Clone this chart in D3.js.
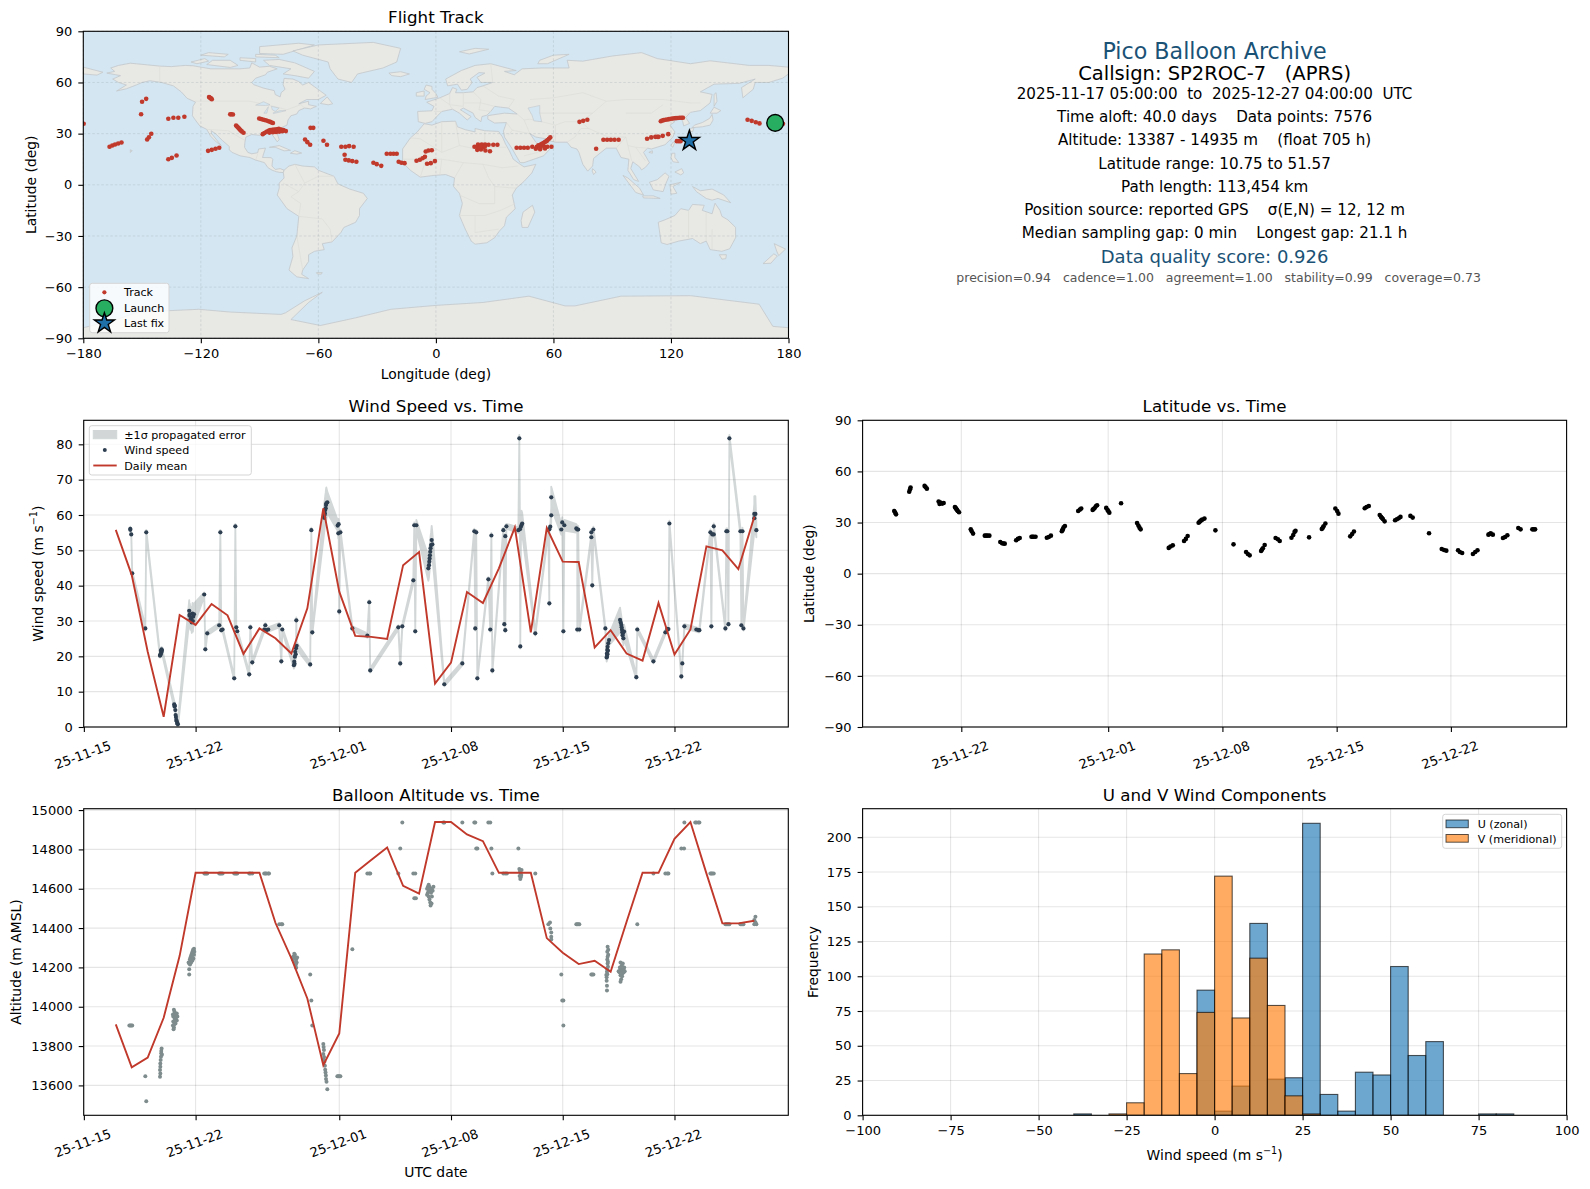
<!DOCTYPE html>
<html>
<head>
<meta charset="utf-8">
<script src="https://cdn.jsdelivr.net/npm/d3@7/dist/d3.min.js"></script>
<style>
  body { margin: 0; background: #fff; }
  svg { display: block; font-family: "DejaVu Sans", sans-serif; }
</style>
</head>
<body>
<div id="container"></div>
<script>
/* DATA */
// all times are days since 2025-11-15 00:00 UTC
const timeTicks = ["2025-11-15", "2025-11-22", "2025-12-01", "2025-12-08", "2025-12-15", "2025-12-22"]
const lonTicks = [-180, -120, -60, 0, 60, 120, 180]
const latTicks = [-90, -60, -30, 0, 30, 60, 90]
const speedTicks = [0, 10, 20, 30, 40, 50, 60, 70, 80]
const altTicks = [13600, 13800, 14000, 14200, 14400, 14600, 14800, 15000]
const histXTicks = [-100, -75, -50, -25, 0, 25, 50, 75, 100]
const histYTicks = [0, 25, 50, 75, 100, 125, 150, 175, 200]

// daily means, first day is day 2 (Nov 17)
const dailyDays = [2,3,4,5,6,7,8,9,10,11,12,13,14,15,16,17,18,19,20,21,22,23,24,25,26,27,28,29,30,31,32,33,34,35,36,37,38,39,40,41,42]
const dailySpeed = [55.8,43,21.3,2.9,31.7,28.9,34.8,31.6,20.7,27.9,25.1,20.8,33.6,61.9,38.3,25.8,25.5,24.9,45.8,49.5,12.3,18.2,38.2,35.1,44.9,56.5,26.8,56.3,46.8,46.7,22.5,27.4,20.8,18.8,35.1,20.5,27.6,51.1,50,44.7,59.5]
const dailyAlt = [13910,13692,13741,13944,14259,14681,14681,14681,14681,14681,14427,14246,14042,13703,13864,14681,14746,14810,14615,14575,14939,14939,14876,14842,14681,14681,14681,14349,14275,14217,14234,14178,14432,14681,14681,14854,14939,14678,14424,14424,14437]

// [day, wind speed, sigma]
const windPts = [
  [2.91,56.1,.6],[2.91,55.8,.6],[2.97,54.5,.6],[3.03,43.5,.6],[3.85,27.9,.6],[3.91,55.1,.7],
  [4.77,20.2,.6],[4.79,20.4,.6],[4.81,20.6,.6],[4.83,21.6,.6],[4.85,21.1,.7],[4.87,22,.7],[4.89,21.6,.7],
  [5.66,6.4,1],[5.68,5.8,1],[5.7,6,1],[5.73,4.8,1],[5.75,3.4,1],[5.77,2.8,1],[5.79,2,1],[5.82,1.6,1],[5.85,1,1],[5.89,.8,1],
  [6.6,32.9,3],[6.62,31.5,3],[6.64,31.9,3],[6.68,30.5,3],[6.73,30.9,3],[6.76,29.6,3],[6.81,32.1,3],[6.83,30,3],[6.85,31.2,3],[6.9,31.9,3],
  [7.54,37.5,.6],[7.61,22,.6],[7.73,26.5,.6],[8.48,28.8,.6],[8.55,55.1,.7],[8.61,27.4,.6],[8.69,27.6,.6],
  [9.42,13.8,.6],[9.49,56.8,.7],[9.55,28.2,.6],[9.61,27.1,.6],[10.36,14.9,.6],[10.43,28.2,.6],[10.55,18.3,.6],
  [11.3,27.6,.6],[11.37,28.8,.6],[11.43,27.4,.6],[11.55,27.6,.6],[12.24,28.8,.6],[12.37,18.6,.6],[12.43,27.6,.6],
  [13.16,17.5,1],[13.18,18.5,1],[13.2,17.9,1],[13.22,19.9,1.5],[13.24,21.3,1.5],[13.27,20.6,1.5],[13.29,22.3,1.5],[13.31,30.2,.8],[13.33,23,1],
  [14.18,17.7,.6],[14.25,55.7,.7],[14.31,26.8,.6],
  [15.06,59.2,4],[15.08,60,4],[15.1,60.5,4],[15.12,61.4,4],[15.15,61.9,4.5],[15.17,62.8,4.5],[15.19,63.3,4.5],[15.25,63.6,3],
  [15.9,57,1.5],[15.94,54.8,1.5],[15.96,57.4,1.5],[16,32.7,.7],[16.07,55.1,.8],
  [16.82,27.9,.6],[17.76,25.9,.6],[17.88,35.3,.6],[17.94,16,.6],[19.7,28.2,.6],[19.82,18,.6],[19.95,28.5,.6],
  [20.64,41.5,.8],[20.7,57.1,.8],[20.76,27.1,.6],[20.83,57.1,1.5],
  [21.58,44.9,3.5],[21.62,45.8,3.5],[21.64,46.8,3.5],[21.66,47.7,3.5],[21.68,48.6,3.5],[21.7,49.6,3.5],[21.72,50.6,3.5],[21.75,51.5,3.5],[21.79,52.9,4],[21.83,51.7,3.5],
  [22.58,12.1,.6],[23.71,18,.6],[24.46,55.4,.7],[24.52,27.9,.6],[24.58,55.1,.7],[24.65,13.8,.6],
  [25.34,41.8,.6],[25.46,27.6,.6],[25.53,54.2,.7],[25.59,16,.6],[26.28,55.7,.7],[26.34,29.1,.6],[26.4,54,.7],[26.4,27.4,.6],[26.47,56.8,.7],
  [27.22,55.7,.8],[27.28,81.7,1],[27.32,56,1.5],[27.34,22.8,.6],[27.38,56.7,4],[27.42,57.2,4],[27.46,57.6,3],
  [28.28,26.5,.6],[29.1,55.8,.8],[29.16,35,.6],[29.16,56,.8],[29.22,56.7,.8],[29.28,59.9,2],[29.28,65,3],
  [29.91,55.9,1.5],[29.97,57.9,1.5],[30.04,27.1,.6],[30.1,57.1,1.5],[30.85,56.2,1.2],[30.91,55.9,1],[30.91,27.6,.6],[30.97,55.9,1],[31.04,27.6,.6],
  [31.79,53.7,.8],[31.79,55.1,.8],[31.85,40.1,.6],[31.92,55.9,.8],[32.67,27.9,.6],
  [32.75,19.7,1.2],[32.77,20.8,1.2],[32.77,19.9,1.2],[32.79,21.8,1.5],[32.8,20.6,1.5],[32.81,22.7,1.5],[32.83,21.6,1.5],[32.85,23.7,1.5],[32.9,24.6,1.5],
  [33.59,30.3,3.5],[33.63,29.6,3],[33.67,28.9,2.5],[33.69,28.2,2.5],[33.71,27.5,2],[33.73,26.8,2],[33.75,26,2],[33.78,26.6,2],[33.8,25.1,2],[33.84,27,2],
  [34.61,14.1,.6],[34.67,27.6,.6],[35.68,18.6,.6],[36.43,26.8,.6],[36.55,27.7,.6],[36.62,27.7,.6],[36.68,57.6,.8],
  [37.43,14.3,.6],[37.49,18,.6],[37.62,28.5,.6],[38.37,27.6,.6],[38.5,27.4,.6],[38.56,27.4,.6],
  [39.25,55.1,.8],[39.31,28.5,.6],[39.37,54.5,.8],[39.46,54.5,.8],[39.46,56.8,.8],
  [40.19,27.9,.6],[40.25,55.4,.8],[40.31,55.4,.8],[40.38,29.1,.6],[40.44,81.7,1],
  [41.13,55.4,1],[41.19,28.8,.6],[41.26,55.4,1],[41.32,27.9,.6],[42,59.1,4],[42,60.3,5],[42.07,60.3,5],[42.13,55.7,2]
]

// [day, altitude]
const altPts = [
  [2.85,13905],[2.91,13905],[2.97,13905],[3.03,13905],[3.85,13646],[3.91,13519],
  [4.77,13644],[4.79,13661],[4.77,13678],[4.79,13695],[4.79,13712],[4.81,13729],[4.83,13746],[4.85,13763],[4.87,13788],[4.85,13775],[4.89,13756],
  [5.62,13885],[5.64,13895],[5.58,13905],[5.66,13910],[5.6,13925],[5.68,13925],[5.82,13930],[5.7,13940],[5.6,13950],[5.66,13950],[5.72,13960],[5.76,13955],[5.7,13930],[5.74,13915],[5.78,13945],[5.86,13950],[5.68,13975],[5.64,13985],[5.82,13965],[5.58,13960],
  [6.6,14164],[6.6,14190],[6.6,14220],[6.64,14240],[6.68,14250],[6.72,14260],[6.76,14270],[6.8,14280],[6.84,14290],[6.88,14285],[6.9,14265],[6.86,14245],[6.8,14235],[6.72,14225],[6.65,14215],[6.9,14295],[6.56,14225],[6.92,14280],[6.8,14262],[6.7,14240],
  [7.55,14678],[7.61,14678],[7.67,14678],[7.73,14678],[8.48,14678],[8.55,14678],[8.61,14678],[8.69,14678],
  [9.42,14678],[9.49,14678],[9.55,14678],[9.61,14678],[10.36,14678],[10.43,14678],[10.55,14678],
  [11.3,14678],[11.37,14678],[11.43,14678],[11.55,14678],[11.6,14678],[12.24,14419],[12.37,14419],[12.43,14419],
  [13.1,14240],[13.14,14255],[13.18,14270],[13.22,14265],[13.26,14250],[13.3,14240],[13.33,14225],[13.28,14215],[13.2,14225],[13.3,14198],[13.36,14250],[13.06,14250],
  [14.18,14164],[14.25,14032],[14.31,13905],
  [15,13810],[15.02,13795],[15.04,13780],[15,13760],[15.05,13745],[15.02,13730],[15.07,13720],[15.1,13700],[15.12,13680],[15.14,13665],[15.16,13650],[15.17,13632],[15.2,13618],[15.25,13580],
  [15.88,13646],[15.94,13646],[16,13646],[16.07,13646],[16.82,14292],[17.76,14678],[17.88,14678],[17.94,14678],
  [19.7,14678],[19.82,14805],[19.95,14937],[20.64,14678],[20.76,14678],[20.7,14552],[20.8,14552],
  [21.5,14600],[21.55,14610],[21.6,14620],[21.65,14610],[21.7,14595],[21.75,14580],[21.8,14600],[21.85,14590],[21.55,14580],[21.6,14560],[21.65,14545],[21.7,14530],[21.72,14515],[21.78,14525],[21.8,14560],[21.9,14610],[21.5,14570],[21.62,14590],
  [22.52,14937],[22.58,14937],[23.71,14937],[24.46,14937],[24.52,14937],[24.58,14805],[24.65,14805],[25.34,14937],[25.46,14937],[25.53,14805],[25.59,14678],
  [26.28,14678],[26.4,14678],[26.5,14678],[27.22,14805],
  [27.28,14700],[27.32,14690],[27.36,14680],[27.4,14670],[27.38,14660],[27.34,14650],[27.3,14665],[27.42,14695],[28.28,14678],
  [29.1,14419],[29.2,14428],[29.22,14398],[29.28,14378],[29.28,14356],[29.28,14342],
  [29.91,14164],[29.97,14032],[30.04,14032],[30.04,13905],[30.85,14419],[30.91,14419],[30.97,14419],[31.04,14419],[31.79,14164],[31.85,14164],[31.92,14164],
  [32.77,14083],[32.77,14107],[32.75,14132],[32.73,14161],[32.77,14178],[32.79,14165],[32.79,14190],[32.83,14203],[32.81,14220],[32.83,14229],[32.79,14240],[32.81,14254],[32.85,14265],[32.79,14280],[32.85,14290],[32.81,14305],[32.75,14150],
  [33.62,14127],[33.66,14140],[33.55,14175],[33.6,14185],[33.65,14195],[33.7,14180],[33.75,14170],[33.8,14190],[33.82,14175],[33.72,14155],[33.62,14160],[33.7,14210],[33.76,14220],[33.62,14225],[33.85,14200],[33.5,14180],[33.88,14180],[33.58,14200],
  [34.67,14419],[35.68,14678],[36.43,14678],[36.55,14678],[36.62,14678],[37.43,14805],[37.6,14805],[37.62,14937],[38.3,14937],[38.37,14937],[38.5,14937],[38.56,14937],
  [39.25,14678],[39.31,14678],[39.37,14678],[39.46,14678],[40.19,14419],[40.25,14419],[40.31,14419],[40.38,14419],[40.44,14419],
  [41.13,14419],[41.19,14419],[41.26,14419],[41.32,14419],[42,14419],[42.13,14419],[42.07,14458],[42,14441],[42.07,14430]
]

// [day, latitude]
const latPts = [
  [2.89,36.8],[2.95,35.8],[3,34.8],[3.81,48.1],[3.86,49.5],[3.89,50.5],[4.75,51.5],[4.81,50.8],[4.89,49.9],
  [5.61,42.3],[5.67,40.9],[5.72,41.7],[5.83,41.1],[5.92,41.5],[6.61,39.1],[6.65,38.6],[6.69,38],[6.74,37.4],[6.78,36.8],[6.86,36],
  [7.58,26],[7.64,24.9],[7.72,23.5],[8.44,22.3],[8.52,22.3],[8.61,22.3],[8.72,22.3],[9.39,18.6],[9.5,17.8],[9.58,17.7],[9.66,17.6],
  [10.36,19.6],[10.47,20.4],[10.58,20.9],[11.3,21.7],[11.37,21.7],[11.44,21.7],[11.55,21.7],[12.24,21.1],[12.36,21.5],[12.49,22.3],
  [13.16,24.9],[13.19,25.5],[13.22,26],[13.27,27.2],[13.35,28],[14.16,36.8],[14.27,37.6],[14.35,38.2],
  [15.05,37.4],[15.1,37.9],[15.16,38.4],[15.24,39.5],[15.32,40.1],[15.88,38.6],[15.96,37.4],[16.01,36.6],[16.07,35.8],[16.79,41.3],
  [17.77,29.7],[17.85,28.2],[17.92,27],[17.99,26],[19.71,15.1],[19.82,15.9],[19.96,16.6],[20.65,19.2],[20.76,20.4],[20.87,22.1],
  [21.54,29.9],[21.6,30.4],[21.65,30.9],[21.7,31.3],[21.76,31.7],[21.9,32.3],[22.57,25.4],[23.68,17.2],[24.45,12.7],[24.56,11.5],[24.67,10.75],
  [25.37,13.3],[25.42,14.1],[25.48,14.9],[25.59,16.8],[26.26,20.9],[26.4,20.2],[26.51,19.2],[27.23,21.1],[27.34,22.7],[27.42,24.5],[27.48,25.2],
  [28.31,21.3],[29.09,26.2],[29.15,27],[29.2,27.8],[29.31,29.4],[29.92,38.2],[30.03,36.8],[30.11,35.2],[30.83,21.9],[30.95,23.3],[31.06,24.7],
  [31.72,38.4],[31.83,39.1],[31.97,39.7],[32.64,34.4],[32.72,33.3],[32.78,32.7],[32.83,32.1],[32.94,30.7],[33.58,31.3],[33.69,31.9],[33.8,32.5],[33.91,33.3],
  [34.52,33.9],[34.66,32.9],[35.66,23.7],[36.44,14.5],[36.58,13.9],[36.72,13.5],[37.44,13.7],[37.55,12.7],[37.69,12.1],
  [38.35,11.5],[38.49,12.7],[38.63,13.7],[39.3,22.9],[39.37,23.3],[39.44,23.7],[39.57,22.9],[40.19,20.9],[40.32,21.5],[40.46,22.5],
  [41.13,26.8],[41.27,26],[41.99,26],[42.08,26],[42.16,26]
]

// [lon, lat]
const trackPts = [
  [-179.8,35.8],[-166.6,22.3],[-165.2,23],[-163.8,23.6],[-162.2,24.2],[-160.5,24.8],[-150,48.7],[-147.9,50.4],[-150.5,41.4],
  [-147.4,26.6],[-146.5,27.9],[-145.3,29.9],[-136.6,38.7],[-134,39.3],[-131.5,39.3],[-128.4,39.9],[-136.6,15],[-134.8,15.8],[-132.4,17.2],
  [-116.3,19.9],[-114.4,20.5],[-112.5,21.1],[-110.6,21.7],[-115.8,51.5],[-115.5,51.2],[-115.1,50.9],[-114.7,50.5],[-114.4,50.2],
  [-105,41.3],[-104.3,41.4],[-103.6,41.2],[-102,34.8],[-101.5,34.2],[-101,33.6],[-100.5,33],[-100.1,32.4],[-99.6,31.8],[-99.1,31.3],[-98.2,30.5],
  [-90.2,38.9],[-89.3,38.6],[-88.4,38.3],[-87.5,38],[-86.5,37.7],[-85.5,37.3],[-84.6,36.9],[-83.9,36.5],[-83.2,36.2],
  [-88.4,29.7],[-87.5,30.4],[-86.5,31.1],[-85.5,31.6],[-84.6,32.1],[-83.5,32.3],[-82.5,32.4],[-81.3,32.6],[-80.2,32.8],[-79,32.4],[-77.8,32.1],[-76.6,31.5],
  [-85,30.6],[-84,31.2],[-83.2,30.8],[-82.5,31.4],[-81.6,31],[-81,31.6],[-80,31.2],[-79.5,31.6],[-78.5,31.4],
  [-64,33.4],[-62.6,33.4],[-66.8,26.6],[-65.6,25],[-64.2,23.5],[-57.4,25.8],[-55.6,23.5],
  [-48.3,22.3],[-46.2,22.3],[-44.3,22.7],[-42,22.3],[-46.6,17.6],[-46.2,14.7],[-44.5,14.3],[-42.7,13.9],[-40.6,13.5],
  [-31.9,12.9],[-30.2,12.1],[-27.9,11.1],[-25.1,18.2],[-23.2,18.2],[-21.6,18.2],[-20,18.2],[-19,13.5],[-17.6,12.9],[-16,12.7],
  [-9.9,14.1],[-8.2,14.7],[-6.8,15.6],[-5.6,16.4],[-5.2,19.5],[-3.8,20.1],[-2.1,20.3],[-4.5,12.3],[-2.6,12.7],[-0.5,13.9],
  [19.7,22.3],[21.5,22.3],[21.5,23.6],[23.4,23.6],[25.1,23.6],[26.9,23.5],[29.3,23.5],[31.4,23.5],[21.1,20.5],[23,20.7],[25.3,20.1],[27.6,19.7],[22.3,21.9],[24.1,21.9],[23,22.8],[25,22.5],
  [41.2,21.7],[43.1,21.7],[45,21.7],[46.9,21.7],[49.2,22.3],[51.5,22.3],[53.4,22.3],[55.3,22.3],[56.9,22.3],[59,22.3],
  [52.3,23.1],[53.7,23.8],[55.1,24.6],[56.5,25.6],[57.7,27],[58.4,27.8],[57,26.3],[55.8,25.2],[54.4,24.2],[51,21.1],[53.2,20.9],[55.7,21.3],
  [73.3,36.9],[75.2,37.5],[77.3,38.1],[81.8,21.1],[85.5,26.4],[87.4,26.4],[89.3,26.4],[91.2,26.4],[93.3,26.4],
  [107.8,27],[109.9,27.8],[112,28.1],[113,28.1],[113.7,28.1],[115.8,28.7],[118.6,29.7],
  [114.8,37.3],[115.5,37.7],[116.3,37.9],[117.2,38.1],[118.1,38.3],[119,38.5],[120,38.7],[120.9,38.9],[121.8,39],[122.6,39.1],[123.5,39.2],[124.4,39.3],[125.3,39.3],[126.1,39.3],
  [123,25.6],[124,25.6],[124.9,25.6],[159.1,38.1],[161.2,37.5],[163.3,36.7],[165.2,36],[177.2,35.8]
]
const launchPt = [173.2, 36.3]
const lastFixPt = [129.4, 25.8]

// histogram, bins of 5 m/s from -100 to 100
const binStarts = [-100,-95,-90,-85,-80,-75,-70,-65,-60,-55,-50,-45,-40,-35,-30,-25,-20,-15,-10,-5,0,5,10,15,20,25,30,35,40,45,50,55,60,65,70,75,80,85,90,95]
const uCounts = [0,0,0,0,0,0,0,0,0,0,0,0,1,0,0,0,0,0,0,90,3,21,138,26,27,210,15,3,31,29,107,43,53,0,0,1,1,0,0,0]
const vCounts = [0,0,0,0,0,0,0,0,0,0,0,0,0,0,1,9,116,119,30,74,172,70,113,79,14,1,0,0,0,0,0,0,0,0,0,0,0,0,0,0]

const infoLines = [
  "2025-11-17 05:00:00  to  2025-12-27 04:00:00  UTC",
  "Time aloft: 40.0 days    Data points: 7576",
  "Altitude: 13387 - 14935 m    (float 705 h)",
  "Latitude range: 10.75 to 51.57",
  "Path length: 113,454 km",
  "Position source: reported GPS    σ(E,N) = 12, 12 m",
  "Median sampling gap: 0 min    Longest gap: 21.1 h"
]

// coastlines, lon/lat by hand
const land = [
  // north america
  [[-168,65.5],[-164,66.5],[-166,68.5],[-162,70],[-156,71.3],[-148,70.4],[-141,69.6],[-135,69.3],[-128,70],[-124,69.8],[-115,68],[-108,68],[-100,68],[-95,68.5],[-94,71.5],[-90,69],[-85,69.5],[-81,68],[-86,66],[-87,64.5],[-92,62.5],[-94,60],[-93,58.7],[-88,56.7],[-82.5,55.2],[-82,52.9],[-79.5,51.5],[-79,54],[-77,56],[-78,58.7],[-77.5,62.4],[-73,62],[-70,60.5],[-68,58.5],[-65,60],[-62,57.5],[-59,55],[-56,52.5],[-60,50],[-66,50],[-70,47.5],[-65,49],[-65,47],[-61,46],[-64,44.5],[-67,45],[-70,43.5],[-71,41.5],[-74,40.5],[-75.5,38],[-76,35],[-78,34],[-81,32],[-81,30],[-80,26.5],[-81,25.2],[-82.7,28],[-84,30],[-88,30.3],[-90,29],[-94,29.5],[-97,28],[-97.5,25],[-97.7,22],[-96,19],[-94,18.2],[-91,18.8],[-90.5,21],[-87,21.5],[-88,18],[-88.5,16],[-84,15.9],[-83.3,14.9],[-83.7,11],[-82,9],[-79.5,9.5],[-77.5,8.6],[-77.9,7.2],[-80,7.3],[-81.5,7.7],[-83.5,8.5],[-85.7,10],[-87.5,13],[-92,14.5],[-95,16],[-100,17],[-104,19],[-105.5,20.5],[-105.5,22.5],[-109,26],[-112.5,30],[-114.7,31.7],[-114.5,30],[-111,25],[-109.5,23],[-112,25],[-115,28.5],[-117,32.5],[-120.5,34.5],[-122.5,37.5],[-124.3,40.5],[-124,46],[-122.7,48.5],[-127,50.7],[-130,54.5],[-134,58],[-140,60],[-146,61],[-150,60],[-153,58.5],[-158,56.3],[-163,55],[-158,58.5],[-162,60],[-165,62],[-161,64]],
  [[-80,73.5],[-72,71.5],[-62,66.5],[-65,62.5],[-72,64],[-78,65],[-74,68],[-85,70],[-88,73]],
  [[-90,77],[-78,76.5],[-62,82],[-70,83],[-90,81]],
  [[-125,72],[-118,74],[-116,72.5],[-122,71]],
  [[-117,70.5],[-105,68.8],[-101,70],[-105,73],[-114,73]],
  [[-92,75],[-80,74.5],[-82,76],[-92,76.5]],
  [[-120,76],[-108,75],[-106,76.5],[-116,77.5]],
  [[-100,73],[-92,72],[-92,74],[-100,74.5]],
  [[-59,47.7],[-55,46.9],[-52.7,47.5],[-55.5,51.5]],
  [[-85,22],[-80,23],[-74.2,20.2],[-77.5,19.9],[-82,22]],
  [[-74.3,18.5],[-72,20],[-68.5,18.6],[-71,18]],
  [[-156,19],[-155,20],[-156,20.5]],
  // greenland
  [[-73,78.5],[-60,82],[-32,83.5],[-18,80],[-20,72],[-27,68.5],[-40,65],[-43,60],[-50,62],[-54,68],[-55,72],[-68,76]],
  // south america
  [[-77.5,8.6],[-75,11],[-72,12],[-68,11],[-62,10.5],[-60,8.5],[-52,5],[-50,0.5],[-44,-2.5],[-37,-5],[-35,-8],[-39,-14],[-39,-18],[-41,-22],[-47,-25],[-48.5,-28],[-53,-33.5],[-58,-34.5],[-57,-38],[-62,-39],[-65,-41],[-65,-45],[-68,-50],[-68.5,-52.5],[-65,-55],[-71,-54],[-75,-50],[-73,-42],[-73.5,-37],[-71,-30],[-70,-18.5],[-76,-14],[-81,-6],[-80,-2],[-80,1],[-77.5,4],[-77.9,7.2]],
  [[-61,-51.5],[-58,-51.5],[-58.5,-52.4],[-60.5,-52.3]],
  // africa
  [[-6,35.8],[-2,35],[3,37],[10,37.3],[11,34],[15,32.3],[20,31],[20,33],[25,31.7],[32,31.3],[34,28],[35.5,24],[37.5,20],[39.5,15],[43,12],[45,10.5],[51,12],[49,7],[45,2],[41,-2],[39,-6],[40.5,-14],[36,-19],[35,-24],[32.5,-27],[30,-31],[26,-34],[20,-34.8],[18,-33],[15,-26],[12,-18],[13.5,-11],[12,-5],[9,-1],[9.5,4],[5,6],[-1,5.5],[-8,4.5],[-13,8.5],[-17,13],[-17,21],[-13,27.5],[-9.5,31]],
  [[49.3,-12],[50.5,-16],[47,-25],[44,-25],[43.5,-21],[44.5,-16]],
  // eurasia
  [[-9,37],[-9.3,43],[-2,43.4],[-1,46],[-4.7,48.4],[2,51],[7,53.5],[8.5,57],[10.7,56],[10,54],[14,54],[19,54.5],[21,57],[24,58],[29,60],[23,60],[21,63],[25,65.5],[22,65.8],[17.5,62],[18.5,60],[16,56],[13,55.5],[11,59],[6,58],[5,62],[13,67],[20,70],[28,71],[41,67],[35,66.5],[40,64.5],[44,68],[54,68.5],[68,68.5],[67,73],[75,72.5],[80,73.5],[90,75.5],[105,77.5],[113,74],[130,71],[140,72.7],[160,70],[170,70],[180,69],[180,65],[177,62.5],[170,60],[163,60],[162,56],[156.7,51],[156,57],[163,62],[155,59.5],[142,59],[135,54.5],[141,53],[140,48],[135,43.5],[130,42.5],[127.5,39.5],[129.5,36],[126.5,34.5],[126,37],[125,39.7],[121,39],[118,39],[122,37],[119.5,35],[122,31],[121,28],[117,23.5],[110,21],[108,21.5],[106,19],[109,13],[107,10.3],[105,8.7],[104,10.5],[100.5,13.5],[99.5,9.5],[103.5,2],[101,3],[98,8.5],[98.5,15],[94.5,16],[92,21.5],[87,21.5],[80.5,15.5],[80,11],[77.5,8],[75,12],[73,19],[72,21],[69,22],[67,25],[61,25],[57,26],[56,27],[51,28],[48,30],[51,25],[52,24],[56,26],[59.5,22.5],[55,17],[45,13],[43,13],[39,21],[35,28],[34.5,31.5],[36,36.5],[30,36.2],[26.5,38.5],[26.5,40.5],[29,41],[35,42],[41.5,41.5],[37,45],[33,45.5],[30,46],[28,43],[26,40.8],[23.5,40],[23,37],[20,39.5],[19,42],[14,45],[12.5,44],[18,40],[16,38],[12,42],[8.5,44.3],[3,43],[0,39.5],[-2,37],[-5.5,36]],
  [[-180,69],[-170,66],[-173,64.3],[-180,65]],
  [[-5.5,50],[1,51.3],[0,53.5],[-2,56],[-2,57.7],[-5,58.5],[-6,56],[-3,54],[-5,52]],
  [[-10,52],[-6,52],[-6,55],[-10,54]],
  [[-24,65.5],[-18,66.3],[-13.5,65],[-18,63.4],[-22.5,64]],
  [[12,78],[20,80],[27,79.5],[17,76.7]],
  [[52,71],[57,71],[68,76.5],[60,76],[53,73]],
  [[130.8,33.5],[136,34],[140,35],[141.5,38],[141,41.3],[139.8,39],[136,36.5],[132,35]],
  [[140,42],[143.5,42],[145.5,43.5],[142,45.5]],
  [[129.8,33],[131.8,33.5],[131,31],[130,31.5]],
  [[142,46],[143.5,49],[143,54],[142,53]],
  [[120,23],[121,25],[122,25],[121,22]],
  [[108.7,19],[110.5,20],[110.5,18.5]],
  [[120,16],[120.5,18.5],[122,18.5],[122,16],[124,13],[121,13.5]],
  [[122,7.5],[125.5,9.5],[126.5,7],[125,5.8]],
  [[109,1.5],[113,3],[117,7],[119,5],[117.5,1],[116,-4],[111,-3]],
  [[95.5,5.5],[98,4],[104,-2],[106,-6],[102,-4.5]],
  [[105.5,-6.5],[111,-6.5],[114.5,-8],[106,-7.7]],
  [[119.5,0],[125,1.5],[121,-1],[123,-5],[120,-5.5]],
  [[131,-1],[135,-3.5],[141,-2.5],[147,-6],[150.5,-10.5],[144,-8],[141,-9],[138,-8],[133,-4]],
  [[80,9.5],[81.8,7.5],[80.5,6],[79.8,8]],
  // australia, new zealand
  [[113.5,-22],[114,-26],[115,-34],[118,-35],[124,-33],[131,-31.5],[135,-34.5],[138,-33],[140,-38],[146,-39],[150,-37.5],[153,-31],[153,-25],[149,-20.5],[146,-18.5],[145,-15],[142.5,-10.8],[141,-17],[136,-15],[137,-12],[131,-11.5],[129,-15],[125,-14],[122,-18],[117,-20.5]],
  [[144.7,-41],[148.3,-41],[148,-43.3],[146,-43.6]],
  [[172.7,-34.5],[178.5,-37.7],[175,-41.5],[174,-39]],
  [[172.5,-40.5],[174.3,-41.7],[171,-46],[167,-46.2]],
  // antarctica
  [[-180,-83.8],[-163,-79],[-152,-74.6],[-121,-73],[-105,-74.6],[-79,-76],[-76.7,-75],[-67,-68],[-58,-63],[-65,-69],[-74,-79],[-59,-82.5],[-41,-78],[-23,-73],[0,-70.7],[24,-69],[47.5,-65.3],[66,-71],[71,-71],[94.5,-65.3],[130,-65],[165,-70],[172,-83],[180,-83.8],[180,-90],[-180,-90]]
]
const lakes = [
  [[47,45],[53,46.5],[53,42],[54,37],[50,37.5],[49,41]],
  [[-92,46.7],[-88,48.7],[-84.7,47],[-87,46.5]],
  [[-87.8,42],[-85.5,45.8],[-86.3,42]],
  [[-84,46],[-80,45],[-82,43],[-83.5,44]],
  [[-83,41.8],[-79,42.8],[-76.5,43.5],[-79.5,43.5],[-83,42.3]]
]
// a few country borders
const borders = [
  [[-141,69.6],[-141,60]],[[-123,49],[-95,49],[-83,46],[-76,44],[-69,47],[-67,45]],[[-117,32.5],[-106,31.7],[-97.5,26]],[[-92,14.5],[-91,18]],
  [[-70,-18.5],[-58,-20],[-54,-26],[-53,-33.5]],[[-70,-18.5],[-69,-11],[-74,-7],[-70,-4],[-67,1],[-60,5],[-52,5]],[[-71,-30],[-68,-50]],[[-78,1],[-70,-4]],[[-72,12],[-67,1]],
  [[-13,27.5],[-8,27],[3,19],[12,23],[25,20],[25,31.7]],[[25,22],[36,22]],[[-17,15],[-5,15],[3,15],[14,13],[24,12],[34,10],[42,11]],[[9.5,4],[14,13]],[[24,12],[27,4],[30,-1],[30,-11],[22,-11],[12,-6]],[[30,-1],[41,-2]],[[12,-18],[25,-18],[33,-15],[40.5,-11]],[[20,-28],[20,-18]],[[20,-28],[32,-26]],[[3,37],[3,19]],[[10,37],[12,23]],[[-5,15],[-8,4.5]],[[3,15],[2,6]],
  [[-1,43],[3,43]],[[2,51],[7,47],[8.5,44]],[[7,53.5],[7,47],[14,46]],[[14,54],[14,46]],[[19,54.5],[23,50],[22,44],[28,43]],[[28,71],[29,60]],[[24,58],[32,52],[40,50],[37,45]],[[14,48],[23,48],[30,46]],
  [[48,30],[39,32],[36,36.5]],[[39,32],[37,29]],[[48,30],[45,38],[41.5,41.5]],[[48,42],[62,42],[70,42],[80,42]],[[48,50],[60,51],[75,54],[87,49],[97,50],[116,50],[130,48],[135,48]],[[87,49],[80,42],[74,37],[78,33],[88,28],[97,28],[98,23],[102,22],[108,21.5]],[[97,28],[92,21.5]],[[61,25],[61,35],[66,37],[74,37]],[[67,25],[71,28],[74,33],[78,33]],[[45,38],[48,38.5],[54,37],[61,35]],[[125,39.7],[130,42.5]],[[97,42],[110,42],[116,47]],[[98,23],[100,14]],[[102,22],[107,14]],[[51,25],[55,22],[52,19],[45,17]],
  [[129,-15],[129,-31.5]],[[138,-16],[138,-33]],[[141,-26],[141,-38]]
]

/* LAYOUT */
const width = 1590, height = 1189
const mapBox = {x0: 83.3, x1: 788.5, y0: 31.3, y1: 338.3}
const windBox = {x0: 83.7, x1: 788.3, y0: 420.3, y1: 727}
const latBox = {x0: 862.6, x1: 1566.6, y0: 420.3, y1: 727}
const altBox = {x0: 83.7, x1: 788.3, y0: 808.7, y1: 1115.3}
const histBox = {x0: 862.6, x1: 1566.6, y0: 808.7, y1: 1115.3}

const red = "#c0392b", navy = "#2c3e50", slate = "#7f8c8d", titleBlue = "#1a5276"
const start = Date.UTC(2025, 10, 15)
const toDate = d => new Date(start + d * 864e5)

const svg = d3.select("#container").append("svg")
  .attr("width", width)
  .attr("height", height)

const defs = svg.append("defs")

function makePanel(id, box, x, y, title, xTicks, yTicks, xFormat, yFormat) {
  defs.append("clipPath").attr("id", id)
    .append("rect")
    .attr("x", box.x0).attr("y", box.y0)
    .attr("width", box.x1 - box.x0).attr("height", box.y1 - box.y0)

  const g = svg.append("g")

  // background layer is returned so the map can sit under the grid
  const back = g.append("g").attr("clip-path", `url(#${id})`)
  const grid = g.append("g").attr("class", "grid").attr("stroke", "#000").attr("stroke-opacity", 0.1).attr("stroke-width", 1.1)
  grid.selectAll(".gx").data(xTicks).join("line")
    .attr("x1", d => x(d)).attr("x2", d => x(d))
    .attr("y1", box.y0).attr("y2", box.y1)
  grid.selectAll(".gy").data(yTicks).join("line")
    .attr("y1", d => y(d)).attr("y2", d => y(d))
    .attr("x1", box.x0).attr("x2", box.x1)
  const plot = g.append("g").attr("clip-path", `url(#${id})`)

  const xAxis = g.append("g")
    .attr("transform", `translate(0,${box.y1})`)
    .call(d3.axisBottom(x).tickValues(xTicks).tickFormat(xFormat).tickSize(5).tickPadding(5))
  const yAxis = g.append("g")
    .attr("transform", `translate(${box.x0},0)`)
    .call(d3.axisLeft(y).tickValues(yTicks).tickFormat(yFormat).tickSize(5).tickPadding(6))
  for (const a of [xAxis, yAxis]) {
    a.select(".domain").remove()
    a.selectAll("line").attr("stroke", "#000").attr("stroke-width", 1.1)
    a.selectAll("text").attr("font-size", 13).attr("fill", "#000").attr("font-family", "DejaVu Sans")
  }

  // frame goes on top
  const top = g.append("g")
  top.append("rect")
    .attr("x", box.x0).attr("y", box.y0)
    .attr("width", box.x1 - box.x0).attr("height", box.y1 - box.y0)
    .attr("fill", "none").attr("stroke", "#000").attr("stroke-width", 1.1)

  svg.append("text")
    .attr("x", (box.x0 + box.x1) / 2).attr("y", box.y0 - 14)
    .attr("text-anchor", "middle").attr("dominant-baseline", "central")
    .attr("font-size", 16.7).attr("fill", "#000")
    .text(title)

  return {g, back, plot, xAxis, top}
}

function rotateDates(axis) {
  axis.selectAll("text")
    .attr("text-anchor", "middle")
    .attr("dy", null)
    .attr("y", null)
    .attr("dominant-baseline", "central")
    .attr("transform", "translate(-1.5,28) rotate(-20)")
}

function axisLabel(x, y, text, rotate, sup) {
  const t = svg.append("text")
    .attr("font-size", 13.9).attr("text-anchor", "middle").attr("dominant-baseline", "central")
    .attr("transform", `translate(${x},${y})` + (rotate ? " rotate(-90)" : ""))
    .text(text)
  if (sup) {
    t.append("tspan").attr("dy", -5).attr("font-size", 9.7).text(sup)
    t.append("tspan").attr("dy", 5).text(")")
  }
  return t
}

const dateFormat = d3.utcFormat("%y-%m-%d")
const tickDates = timeTicks.map(d => new Date(d + "T00:00:00Z"))

/* MAP */
const xLon = d3.scaleLinear().domain([-180, 180]).range([mapBox.x0, mapBox.x1])
const yLat = d3.scaleLinear().domain([-90, 90]).range([mapBox.y1, mapBox.y0])
const map = makePanel("clipMap", mapBox, xLon, yLat, "Flight Track", lonTicks, latTicks, d3.format("d"), d3.format("d"))

map.back.append("rect")
  .attr("x", mapBox.x0).attr("y", mapBox.y0)
  .attr("width", mapBox.x1 - mapBox.x0).attr("height", mapBox.y1 - mapBox.y0)
  .attr("fill", "#d4e6f2")

const coast = d3.line().x(d => xLon(d[0])).y(d => yLat(d[1]))
map.back.selectAll(".land").data(land).join("path")
  .attr("d", d => coast(d) + "Z")
  .attr("fill", "#e8e8e5").attr("stroke", "#c3c8ca").attr("stroke-width", 0.8)
map.back.selectAll(".border").data(borders).join("path")
  .attr("d", coast)
  .attr("fill", "none").attr("stroke", "#dcdcd9").attr("stroke-width", 0.7)
map.back.selectAll(".lake").data(lakes).join("path")
  .attr("d", d => coast(d) + "Z")
  .attr("fill", "#d4e6f2").attr("stroke", "#c3c8ca").attr("stroke-width", 0.6)

// map grid is dashed and fainter than the others
map.g.select(".grid")
  .attr("stroke", "#8a9a9a").attr("stroke-opacity", 0.3).attr("stroke-width", 0.8).attr("stroke-dasharray", "2.5,2")

map.plot.selectAll("circle").data(trackPts).join("circle")
  .attr("cx", d => xLon(d[0])).attr("cy", d => yLat(d[1]))
  .attr("r", 2.3).attr("fill", red)

const starPath = d3.symbol(d3.symbolStar, 125)
function launchMark(parent, x, y) {
  parent.append("circle").attr("cx", x).attr("cy", y).attr("r", 8.4)
    .attr("fill", "#27ae60").attr("stroke", "#000").attr("stroke-width", 1.4)
}
function starMark(parent, x, y) {
  parent.append("path").attr("d", starPath()).attr("transform", `translate(${x},${y})`)
    .attr("fill", "#1f6fa8").attr("stroke", "#000").attr("stroke-width", 1.4)
}
launchMark(map.top, xLon(launchPt[0]), yLat(launchPt[1]))
starMark(map.top, xLon(lastFixPt[0]), yLat(lastFixPt[1]))

function legendBox(x0, x1, y0, y1) {
  svg.append("rect")
    .attr("x", x0).attr("y", y0).attr("width", x1 - x0).attr("height", y1 - y0)
    .attr("rx", 2.5)
    .attr("fill", "#fff").attr("fill-opacity", 0.8)
    .attr("stroke", "#d5d5d5").attr("stroke-width", 1)
}
function legendText(x, y, text) {
  svg.append("text").attr("x", x).attr("y", y)
    .attr("font-size", 11.1).attr("dominant-baseline", "central").attr("fill", "#000").text(text)
}

legendBox(89.7, 169, 283.3, 332.7)
svg.append("circle").attr("cx", 104.4).attr("cy", 292.3).attr("r", 2.1).attr("fill", red)
launchMark(svg, 104.4, 308.3)
starMark(svg, 104.4, 323.3)
legendText(124, 292.3, "Track")
legendText(124, 308.3, "Launch")
legendText(124, 323.3, "Last fix")

axisLabel((mapBox.x0 + mapBox.x1) / 2, 374, "Longitude (deg)")
axisLabel(31, (mapBox.y0 + mapBox.y1) / 2, "Latitude (deg)", true)

/* INFO PANEL */
const infoX = 1214.6
function infoText(y, size, color, text, dx) {
  svg.append("text").attr("x", infoX + (dx || 0)).attr("y", y)
    .attr("text-anchor", "middle").attr("dominant-baseline", "central")
    .attr("font-size", size).attr("fill", color)
    .attr("xml:space", "preserve").style("white-space", "pre")
    .text(text)
}
infoText(50.5, 22.2, titleBlue, "Pico Balloon Archive")
infoText(73.3, 19.5, "#000", "Callsign: SP2ROC-7   (APRS)")
infoLines.forEach((line, i) => infoText(94.3 + i * 23.07, 15.15, "#000", line))
infoText(256.7, 18, titleBlue, "Data quality score: 0.926")
infoText(277.7, 12.5, "#555", "precision=0.94   cadence=1.00   agreement=1.00   stability=0.99   coverage=0.73", 4)

/* WIND SPEED */
const xWind = d3.scaleUtc().domain([toDate(-0.01), toDate(44.13)]).range([windBox.x0, windBox.x1])
const ySpeed = d3.scaleLinear().domain([0, 86.8]).range([windBox.y1, windBox.y0])
const wind = makePanel("clipWind", windBox, xWind, ySpeed, "Wind Speed vs. Time", tickDates, speedTicks, dateFormat, d3.format("d"))
rotateDates(wind.xAxis)

const windArea = d3.area()
  .x(d => xWind(toDate(d[0])))
  .y0(d => ySpeed(d[1] - d[2]))
  .y1(d => ySpeed(d[1] + d[2]))
wind.plot.append("path")
  .attr("d", windArea(windPts))
  .attr("fill", slate).attr("stroke", slate).attr("stroke-width", 1.8)
  .attr("stroke-linejoin", "round")
  .attr("opacity", 0.35)

wind.plot.selectAll(".pt").data(windPts).join("circle")
  .attr("cx", d => xWind(toDate(d[0]))).attr("cy", d => ySpeed(d[1]))
  .attr("r", 2.1).attr("fill", navy)

const speedLine = d3.line()
  .x((d, i) => xWind(toDate(dailyDays[i])))
  .y(d => ySpeed(d))
wind.plot.append("path").attr("d", speedLine(dailySpeed))
  .attr("fill", "none").attr("stroke", red).attr("stroke-width", 1.9)

legendBox(89.3, 251.3, 425.7, 475)
svg.append("rect").attr("x", 93.3).attr("y", 430.5).attr("width", 23.4).attr("height", 8.2)
  .attr("fill", slate).attr("stroke", slate).attr("opacity", 0.35)
svg.append("circle").attr("cx", 104.8).attr("cy", 450).attr("r", 2).attr("fill", navy)
svg.append("line").attr("x1", 93.3).attr("x2", 116.7).attr("y1", 465.5).attr("y2", 465.5)
  .attr("stroke", red).attr("stroke-width", 1.9)
legendText(124.3, 435, "±1σ propagated error")
legendText(124.3, 450, "Wind speed")
legendText(124.3, 466, "Daily mean")

axisLabel(37.5, (windBox.y0 + windBox.y1) / 2, "Wind speed (m s", true, "−1")

/* LATITUDE */
const xLatTime = d3.scaleUtc().domain([toDate(0.952), toDate(44.09)]).range([latBox.x0, latBox.x1])
const yLatTime = d3.scaleLinear().domain([-90, 90]).range([latBox.y1, latBox.y0])
const latPanel = makePanel("clipLat", latBox, xLatTime, yLatTime, "Latitude vs. Time", tickDates.slice(1), latTicks, dateFormat, d3.format("d"))
rotateDates(latPanel.xAxis)
latPanel.plot.selectAll(".pt").data(latPts).join("circle")
  .attr("cx", d => xLatTime(toDate(d[0]))).attr("cy", d => yLatTime(d[1]))
  .attr("r", 2.3).attr("fill", "#000")
axisLabel(809, (latBox.y0 + latBox.y1) / 2, "Latitude (deg)", true)

/* ALTITUDE */
const xAlt = d3.scaleUtc().domain([toDate(-0.01), toDate(44.13)]).range([altBox.x0, altBox.x1])
const yAlt = d3.scaleLinear().domain([13448, 15007]).range([altBox.y1, altBox.y0])
const altPanel = makePanel("clipAlt", altBox, xAlt, yAlt, "Balloon Altitude vs. Time", tickDates, altTicks, dateFormat, d3.format("d"))
rotateDates(altPanel.xAxis)
altPanel.plot.selectAll(".pt").data(altPts).join("circle")
  .attr("cx", d => xAlt(toDate(d[0]))).attr("cy", d => yAlt(d[1]))
  .attr("r", 2).attr("fill", slate)
const altLine = d3.line()
  .x((d, i) => xAlt(toDate(dailyDays[i])))
  .y(d => yAlt(d))
altPanel.plot.append("path").attr("d", altLine(dailyAlt))
  .attr("fill", "none").attr("stroke", red).attr("stroke-width", 1.9)
axisLabel((altBox.x0 + altBox.x1) / 2, 1172, "UTC date")
axisLabel(16, (altBox.y0 + altBox.y1) / 2, "Altitude (m AMSL)", true)

/* HISTOGRAM */
const xHist = d3.scaleLinear().domain([-100, 100]).range([histBox.x0, histBox.x1])
const yHist = d3.scaleLinear().domain([0, 220.5]).range([histBox.y1, histBox.y0])
const hist = makePanel("clipHist", histBox, xHist, yHist, "U and V Wind Components", histXTicks, histYTicks, d3.format("d"), d3.format("d"))

const blue = "#1f77b4", orange = "#ff7f0e"
function drawBars(counts, color) {
  hist.plot.append("g").selectAll("rect").data(counts).join("rect")
    .attr("x", (d, i) => xHist(binStarts[i]))
    .attr("width", (d, i) => xHist(binStarts[i] + 5) - xHist(binStarts[i]))
    .attr("y", d => yHist(d))
    .attr("height", d => yHist(0) - yHist(d))
    .attr("fill", color).attr("fill-opacity", 0.65)
    .attr("stroke", "#000").attr("stroke-opacity", 0.65).attr("stroke-width", 1.1)
}
drawBars(uCounts, blue)
drawBars(vCounts, orange)

legendBox(1442.7, 1561.7, 814.3, 848.3)
svg.append("rect").attr("x", 1446).attr("y", 820).attr("width", 22.3).attr("height", 7.7)
  .attr("fill", blue).attr("fill-opacity", 0.65).attr("stroke", "#000").attr("stroke-opacity", 0.65)
svg.append("rect").attr("x", 1446).attr("y", 834.5).attr("width", 22.3).attr("height", 7.7)
  .attr("fill", orange).attr("fill-opacity", 0.65).attr("stroke", "#000").attr("stroke-opacity", 0.65)
legendText(1477.7, 824, "U (zonal)")
legendText(1477.7, 839.3, "V (meridional)")

axisLabel((histBox.x0 + histBox.x1) / 2, 1155, "Wind speed (m s", false, "−1")
axisLabel(813, (histBox.y0 + histBox.y1) / 2, "Frequency", true)
</script>
</body>
</html>
